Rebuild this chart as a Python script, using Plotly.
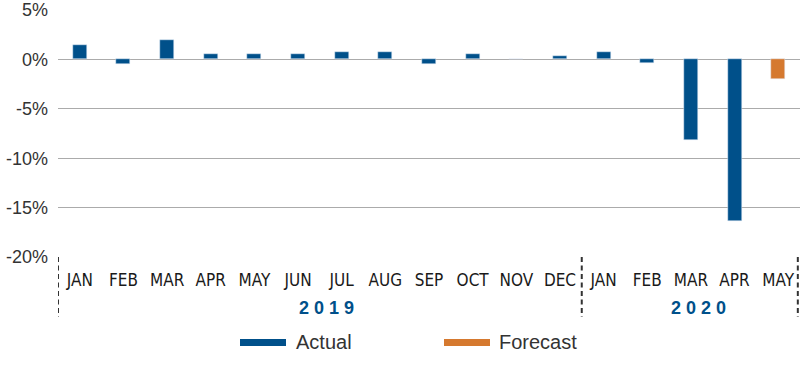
import plotly.graph_objects as go

months = ["JAN", "FEB", "MAR", "APR", "MAY", "JUN", "JUL", "AUG", "SEP", "OCT", "NOV", "DEC",
          "JAN", "FEB", "MAR", "APR", "MAY"]
actual = [1.5, -0.5, 2.0, 0.5, 0.5, 0.5, 0.8, 0.8, -0.5, 0.5, 0.0, 0.3,
          0.75, -0.4, -8.15, -16.4, None]
forecast = [None] * 16 + [-2.0]
years = ["2 0 1 9", "2 0 2 0"]
year_centers = [5.66, 14.18]
year_bounds = [-0.5, 11.5, 16.45]
y_ticks = [5, 0, -5, -10, -15, -20]
y_ticktext = ["5%", "0%", "-5%", "-10%", "-15%", "-20%"]

BLUE = "#00508A"
ORANGE = "#D5792F"
x = list(range(len(months)))

fig = go.Figure()
fig.add_trace(go.Bar(x=x, y=actual, name="Actual", marker_color=BLUE, width=0.32,
                     showlegend=False))
fig.add_trace(go.Bar(x=x, y=forecast, name="Forecast", marker_color=ORANGE, width=0.32,
                     showlegend=False))

plot_w = 742
plot_h = 247
shapes = []
for b in year_bounds:
    shapes.append(dict(type="line", xref="x", yref="paper", x0=b, x1=b, y0=0,
                       y1=-(317 - 257) / plot_h,
                       line=dict(color="#333333", width=2, dash="5px,3.5px")))

# custom legend
legend_items = [("Actual", BLUE, 240, 286, 296), ("Forecast", ORANGE, 444, 490, 499)]
annotations = []
for i, (name, c, sx0, sx1, tx) in enumerate(legend_items):
    shapes.append(dict(type="rect", xref="paper", yref="paper",
                       x0=(sx0 - 58) / plot_w, x1=(sx1 - 58) / plot_w,
                       y0=-(346 - 257) / plot_h, y1=-(339 - 257) / plot_h,
                       line=dict(width=0), fillcolor=c))
    annotations.append(dict(text=name, xref="paper", yref="paper", x=(tx - 60) / plot_w,
                            y=-(342 - 257) / plot_h, xanchor="left", yanchor="middle",
                            showarrow=False,
                            font=dict(family="Liberation Sans, Arial, sans-serif", size=20,
                                      color="#333333")))

for yr, xc in zip(years, year_centers):
    annotations.append(dict(text="<b>" + yr + "</b>", xref="x", yref="paper", x=xc,
                            y=-(308 - 257) / plot_h, xanchor="center", yanchor="middle",
                            showarrow=False,
                            font=dict(family="Liberation Sans, Arial, sans-serif", size=18,
                                      color=BLUE)))

fig.update_layout(
    width=800, height=365,
    margin=dict(l=58, r=0, t=10, b=108),
    plot_bgcolor="white", paper_bgcolor="white",
    barmode="overlay",
    bargap=0,
    shapes=shapes,
    annotations=annotations,
    showlegend=False,
)
fig.update_xaxes(
    range=[-0.5, 16.5], tickvals=x, ticktext=months, showgrid=False, zeroline=False,
    showline=False, ticks="", ticklabelstandoff=11,
    tickfont=dict(family="Liberation Sans Narrow, Arial Narrow, DejaVu Sans Condensed, sans-serif",
                  size=17, color="#1a1a1a"),
)
fig.update_yaxes(
    range=[-20, 5], tickvals=y_ticks, ticktext=y_ticktext, showgrid=True,
    gridcolor="#ABABAB", gridwidth=1, zeroline=True, zerolinecolor="#ABABAB",
    zerolinewidth=1, showline=False, ticks="", ticklabelstandoff=9,
    tickfont=dict(family="Liberation Sans, Arial, sans-serif", size=18, color="#333333"),
)

fig.write_html("out.html", config={"displayModeBar": False},
               post_script="document.body.style.margin='0';")
